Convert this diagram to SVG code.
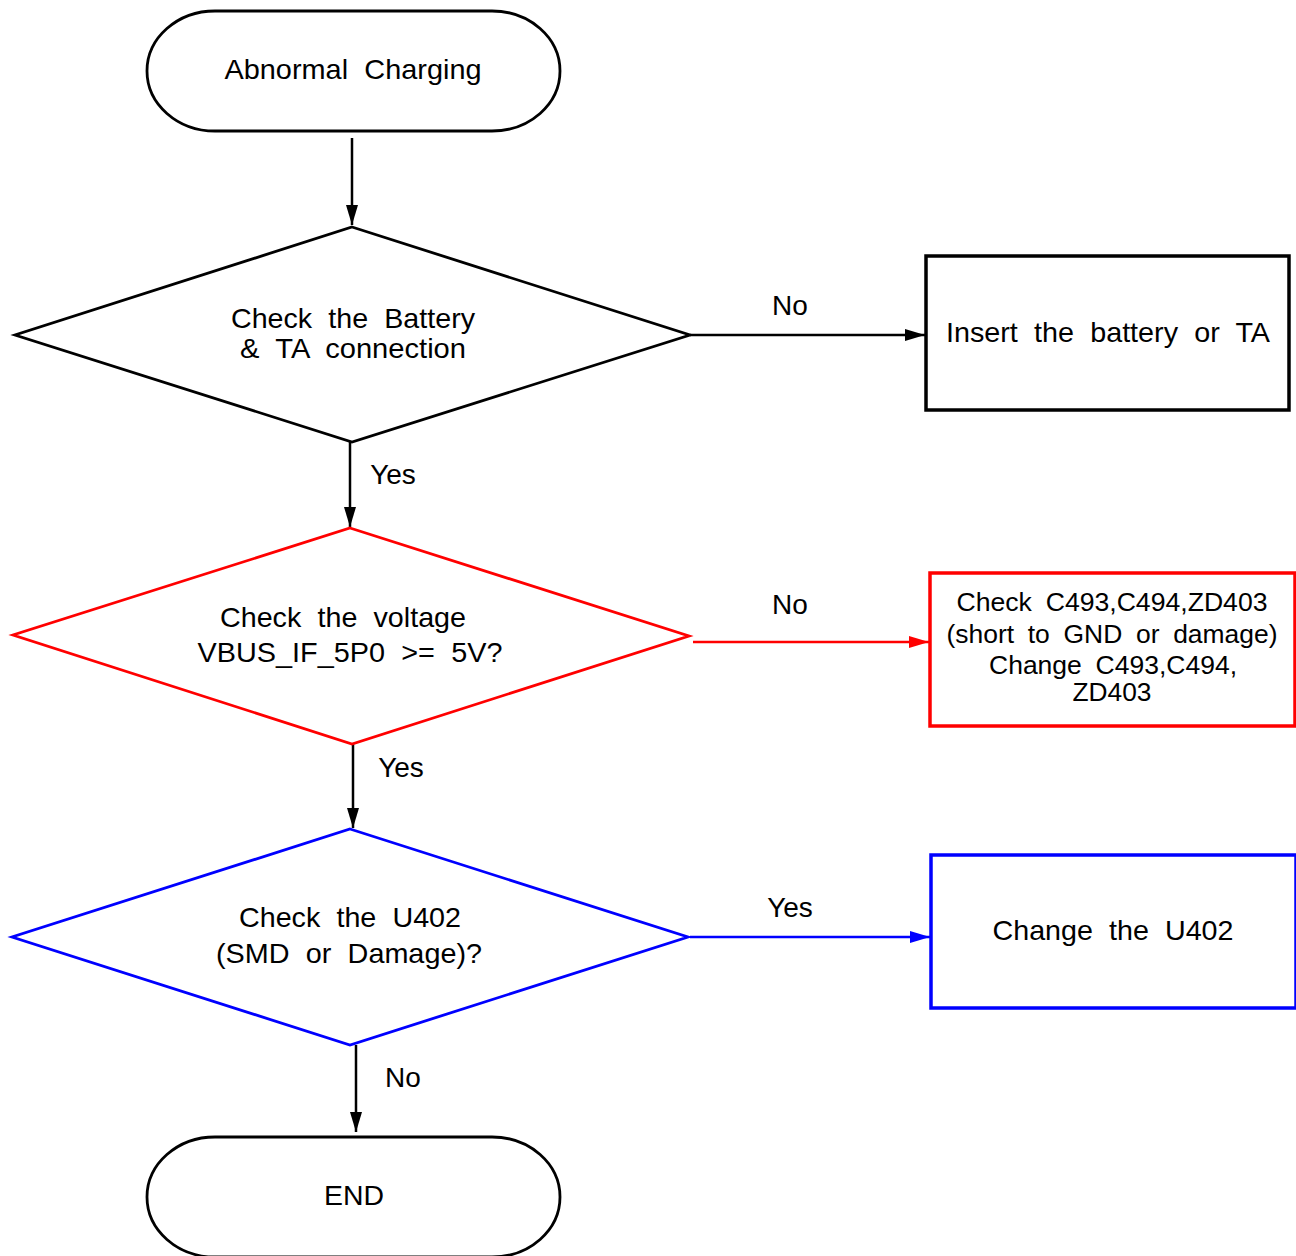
<svg xmlns="http://www.w3.org/2000/svg" width="1296" height="1256" viewBox="0 0 1296 1256">
<defs>
<style>
text{font-family:"Liberation Sans",Arial,sans-serif;font-size:28px;fill:#000;text-anchor:middle;word-spacing:8px}
.sm{font-size:25px;word-spacing:6px}
.k{stroke:#000}
.r{stroke:#f00}
.b{stroke:#00f}
.shape{fill:#fff;stroke-width:2.8}
.box{fill:#fff;stroke-width:3.5}
.ln{fill:none;stroke-width:2.5}
</style>
<marker id="ak" viewBox="0 0 20 12" refX="20" refY="6" markerWidth="20" markerHeight="12" markerUnits="userSpaceOnUse" orient="auto"><path d="M0,0L20,6L0,12z" fill="#000"/></marker>
<marker id="ar" viewBox="0 0 20 12" refX="20" refY="6" markerWidth="20" markerHeight="12" markerUnits="userSpaceOnUse" orient="auto"><path d="M0,0L20,6L0,12z" fill="#f00"/></marker>
<marker id="ab" viewBox="0 0 20 12" refX="20" refY="6" markerWidth="20" markerHeight="12" markerUnits="userSpaceOnUse" orient="auto"><path d="M0,0L20,6L0,12z" fill="#00f"/></marker>
</defs>
<rect width="1296" height="1256" fill="#fff"/>
<g id="connectors">
<line class="ln k" x1="352" y1="138" x2="352" y2="225" marker-end="url(#ak)"/>
<line class="ln k" x1="690" y1="335" x2="925" y2="335" marker-end="url(#ak)"/>
<line class="ln k" x1="350" y1="442" x2="350" y2="527" marker-end="url(#ak)"/>
<line class="ln r" x1="693" y1="642" x2="929" y2="642" marker-end="url(#ar)"/>
<line class="ln k" x1="353" y1="744" x2="353" y2="828" marker-end="url(#ak)"/>
<line class="ln b" x1="690" y1="937" x2="930" y2="937" marker-end="url(#ab)"/>
<line class="ln k" x1="356" y1="1045" x2="356" y2="1132" marker-end="url(#ak)"/>
<text x="790" y="315">No</text>
<text x="393" y="484">Yes</text>
<text x="790" y="614">No</text>
<text x="401" y="777">Yes</text>
<text x="790" y="917">Yes</text>
<text x="403" y="1087">No</text>
</g>
<g id="start">
<path class="shape k" d="M215,11H492A68,60 0 0 1 492,131H215A68,60 0 0 1 215,11z"/>
<text x="353" y="79" textLength="257" lengthAdjust="spacingAndGlyphs">Abnormal Charging</text>
</g>
<g id="decision1">
<polygon class="shape k" points="352,227 690,335 352,442 15,335"/>
<text x="353" y="328" textLength="244" lengthAdjust="spacingAndGlyphs">Check the Battery</text>
<text x="353" y="358" textLength="226" lengthAdjust="spacingAndGlyphs">&amp; TA connection</text>
</g>
<g id="insert">
<rect class="box k" x="926" y="256" width="363" height="154"/>
<text x="1108" y="342" textLength="324" lengthAdjust="spacingAndGlyphs">Insert the battery or TA</text>
</g>
<g id="decision2">
<polygon class="shape r" points="350,528 689,636 352,744 13,635"/>
<text x="343" y="627" textLength="246" lengthAdjust="spacingAndGlyphs">Check the voltage</text>
<text x="350" y="662" textLength="305" lengthAdjust="spacingAndGlyphs">VBUS_IF_5P0 &gt;= 5V?</text>
</g>
<g id="checkC">
<rect class="box r" x="930" y="573" width="365" height="153"/>
<text class="sm" x="1112" y="611" textLength="311" lengthAdjust="spacingAndGlyphs">Check C493,C494,ZD403</text>
<text class="sm" x="1112" y="643" textLength="331" lengthAdjust="spacingAndGlyphs">(short to GND or damage)</text>
<text class="sm" x="1113" y="674" textLength="248" lengthAdjust="spacingAndGlyphs">Change C493,C494,</text>
<text class="sm" x="1112" y="701" textLength="79" lengthAdjust="spacingAndGlyphs">ZD403</text>
</g>
<g id="decision3">
<polygon class="shape b" points="350,829 688,937 350,1045 12,937"/>
<text x="350" y="927" textLength="222" lengthAdjust="spacingAndGlyphs">Check the U402</text>
<text x="349" y="963" textLength="266" lengthAdjust="spacingAndGlyphs">(SMD or Damage)?</text>
</g>
<g id="changeU">
<rect class="box b" x="931" y="855" width="365" height="153"/>
<text x="1113" y="940" textLength="241" lengthAdjust="spacingAndGlyphs">Change the U402</text>
</g>
<g id="end">
<path class="shape k" d="M215,1137H492A68,60 0 0 1 492,1257H215A68,60 0 0 1 215,1137z"/>
<text x="354" y="1205" textLength="60" lengthAdjust="spacingAndGlyphs">END</text>
</g>
</svg>
